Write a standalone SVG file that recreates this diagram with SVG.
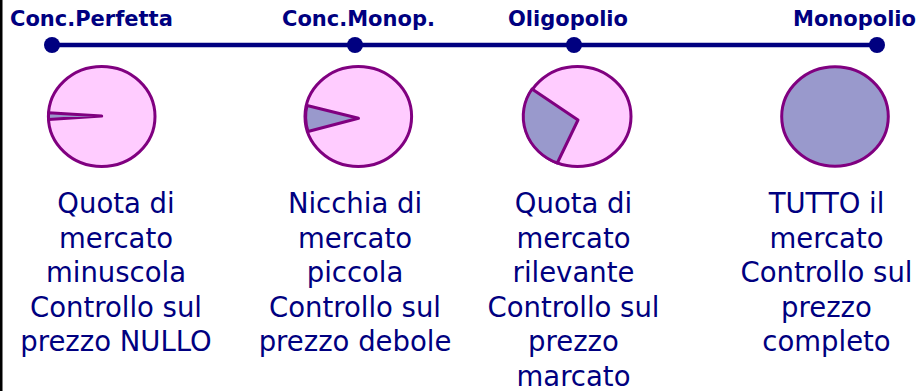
<svg xmlns="http://www.w3.org/2000/svg" width="922" height="391" viewBox="0 0 922 391">
<style>
.lbl{font-family:"DejaVu Sans",Verdana,sans-serif;font-weight:bold;font-size:21px;fill:#000080}
.txt{font-family:"DejaVu Sans",Verdana,sans-serif;font-size:27.5px;fill:#000080;text-anchor:middle}
.pie{fill:#FFCCFF;stroke:#800080;stroke-width:3}
.wedge{fill:#9999CC;stroke:#800080;stroke-width:3;stroke-linejoin:round}
.dot{fill:#000080}
</style>
<rect x="0" y="0" width="2.5" height="391" fill="#000"/>
<g id="connectors">
<line x1="52" y1="45" x2="877" y2="45" stroke="#000080" stroke-width="4.5"/>
</g>
<g id="node-perfetta">
<circle class="dot" cx="52" cy="45" r="8"/>
<text class="lbl" x="10" y="26">Conc.Perfetta</text>
<ellipse class="pie" cx="101.7" cy="116.5" rx="53.3" ry="50"/>
<path class="wedge" d="M101.7,116 L48.6,112.8 A53.3 50 0 0 0 48.6,119.6 Z" stroke-width="2"/>
<text class="txt"><tspan x="116" y="213">Quota di</tspan><tspan x="116" y="247.5">mercato</tspan><tspan x="116" y="282">minuscola</tspan><tspan x="116" y="316.5">Controllo sul</tspan><tspan x="116" y="351">prezzo NULLO</tspan></text>
</g>
<g id="node-monop">
<circle class="dot" cx="355" cy="45" r="8"/>
<text class="lbl" x="282" y="26">Conc.Monop.</text>
<ellipse class="pie" cx="358.3" cy="116.5" rx="53.3" ry="50"/>
<path class="wedge" d="M358.5,118.3 L307,105.5 A53.3 50 0 0 0 308,131.5 Z" stroke-width="3.5"/>
<text class="txt"><tspan x="355" y="213">Nicchia di</tspan><tspan x="355" y="247.5">mercato</tspan><tspan x="355" y="282">piccola</tspan><tspan x="355" y="316.5">Controllo sul</tspan><tspan x="355" y="351">prezzo debole</tspan></text>
</g>
<g id="node-oligopolio">
<circle class="dot" cx="574" cy="45" r="8"/>
<text class="lbl" x="508" y="26">Oligopolio</text>
<ellipse class="pie" cx="577.5" cy="116.5" rx="53.5" ry="50"/>
<path class="wedge" d="M578,120 L532,89 A53.5 50 0 0 0 557.3,163 Z"/>
<text class="txt"><tspan x="573.5" y="213">Quota di</tspan><tspan x="573.5" y="247.5">mercato</tspan><tspan x="573.5" y="282">rilevante</tspan><tspan x="573.5" y="316.5">Controllo sul</tspan><tspan x="573.5" y="351">prezzo</tspan><tspan x="573.5" y="385.5">marcato</tspan></text>
</g>
<g id="node-monopolio">
<circle class="dot" cx="877" cy="45" r="8"/>
<text class="lbl" x="793" y="26">Monopolio</text>
<ellipse class="pie" cx="835" cy="116.5" rx="53.3" ry="49.7" style="fill:#9999CC"/>
<text class="txt"><tspan x="826.5" y="213">TUTTO il</tspan><tspan x="826.5" y="247.5">mercato</tspan><tspan x="826.5" y="282">Controllo sul</tspan><tspan x="826.5" y="316.5">prezzo</tspan><tspan x="826.5" y="351">completo</tspan></text>
</g>
</svg>
